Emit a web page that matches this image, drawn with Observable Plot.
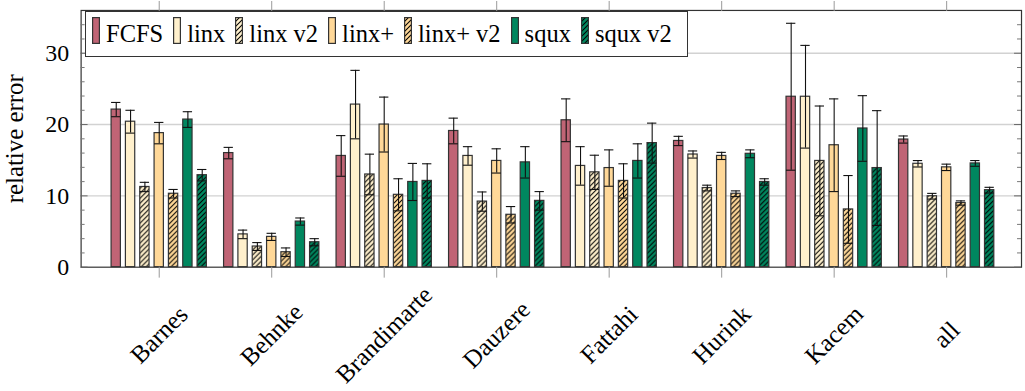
<!DOCTYPE html>
<html>
<head>
<meta charset="utf-8">
<script src="https://cdn.jsdelivr.net/npm/d3@7"></script>
<script src="https://cdn.jsdelivr.net/npm/@observablehq/plot@0.6"></script>
<style>
  html, body { margin: 0; padding: 0; background: #fff; overflow: hidden; }
  #chart { position: relative; width: 1025px; height: 391px; overflow: hidden; font-family: "Liberation Serif", serif; }
  #chart > svg { display: block; }
  #chart svg text { font-family: "Liberation Serif", serif; }
  #legend {
    position: absolute; left: 85px; top: 11px; height: 46px; box-sizing: border-box;
    border: 1px solid #333; background: #fff; display: flex; align-items: center;
    padding: 0 15px 0 6px; font-size: 24.5px; color: #000; z-index: 2;
  }
  #legend .entry { display: flex; align-items: center; margin-right: 10px; }
  #legend .entry:last-child { margin-right: 0; }
  #legend svg { position: relative; top: -3.5px; display: block; }
  #legend span { margin-left: 6px; white-space: pre; }
</style>
</head>
<body>
<div id="chart"><div id="legend"></div></div>
<script>
// Benchmark families (x groups) and scheduling methods (bars within a group)
const datasets = ["Barnes", "Behnke", "Brandimarte", "Dauzere", "Fattahi", "Hurink", "Kacem", "all"];
const methods = ["FCFS", "linx", "linx v2", "linx+", "linx+ v2", "squx", "squx v2"];

// Mean relative error per dataset, and the half-width of its error bar
const fcfsMean    = [22.1, 16.0, 15.6, 19.1, 20.6, 17.7, 23.9, 17.9];
const fcfsErr     = [1.0, 0.8, 2.85, 1.8, 3.0, 0.65, 10.3, 0.5];
const linxMean    = [20.4, 4.6, 22.8, 15.6, 14.2, 15.8, 23.9, 14.5];
const linxErr     = [1.6, 0.6, 4.8, 1.3, 2.7, 0.5, 7.2, 0.45];
const linxV2Mean  = [11.25, 2.9, 13.0, 9.2, 13.3, 11.1, 14.9, 9.95];
const linxV2Err   = [0.65, 0.55, 2.85, 1.35, 2.4, 0.4, 7.7, 0.4];
const linxPMean   = [18.8, 4.25, 20.0, 14.9, 13.9, 15.6, 17.1, 14.0];
const linxPErr    = [1.5, 0.5, 3.85, 1.7, 2.55, 0.5, 6.5, 0.45];
const linxPV2Mean = [10.3, 2.1, 10.15, 7.35, 12.1, 10.3, 8.1, 9.0];
const linxPV2Err  = [0.6, 0.6, 2.25, 1.15, 2.4, 0.4, 4.75, 0.3];
const squxMean    = [20.7, 6.4, 11.95, 14.7, 14.9, 15.9, 19.45, 14.55];
const squxErr     = [1.1, 0.5, 2.6, 2.2, 2.4, 0.55, 4.6, 0.4];
const squxV2Mean  = [12.9, 3.5, 12.1, 9.3, 17.4, 11.95, 13.9, 10.8];
const squxV2Err   = [0.8, 0.5, 2.4, 1.3, 2.8, 0.45, 8.05, 0.4];

// Axis ticks
const yMajorTicks = [0, 10, 20, 30];
const yGridTicks = [10, 20, 30];
const yMinorTicks = [2, 4, 6, 8, 12, 14, 16, 18, 22, 24, 26, 28, 32, 34];

const meanBy = {
  "FCFS": fcfsMean, "linx": linxMean, "linx v2": linxV2Mean, "linx+": linxPMean,
  "linx+ v2": linxPV2Mean, "squx": squxMean, "squx v2": squxV2Mean
};
const errBy = {
  "FCFS": fcfsErr, "linx": linxErr, "linx v2": linxV2Err, "linx+": linxPErr,
  "linx+ v2": linxPV2Err, "squx": squxErr, "squx v2": squxV2Err
};

// Colours: the "v2" variants reuse their base colour with a diagonal hatch
const baseColor = { "FCFS": "#c06475", "linx": "#fff0cc", "linx+": "#ffd898", "squx": "#00875f" };
const hatchOf = { "linx v2": "linx", "linx+ v2": "linx+", "squx v2": "squx" };
const slug = s => s.replace(/\+/g, "p").replace(/\s+/g, "-");
const fillOf = m => hatchOf[m] ? `url(#hatch-${slug(hatchOf[m])})` : baseColor[m];

// Group layout in x units (one unit per dataset group)
const barStep = 0.1274;   // distance between neighbouring bars of a group
const barHalf = 0.0414;   // half the bar width
const groupIndex = new Map(datasets.map((d, i) => [d, i]));
const methodIndex = new Map(methods.map((m, j) => [m, j]));

const table = methods.flatMap(m => datasets.map((ds, i) => ({
  dataset: ds, method: m, value: meanBy[m][i], err: errBy[m][i]
})));
const center = d => groupIndex.get(d.dataset) + (methodIndex.get(d.method) - (methods.length - 1) / 2) * barStep;

const W = 1030, H = 391, ML = 81, MR = 4, MT = 10, MB = 123;
const frameW = W - ML - MR;
const serif = "Liberation Serif";

const plot = Plot.plot({
  width: W, height: H,
  marginLeft: ML, marginRight: MR, marginTop: MT, marginBottom: MB,
  style: { fontFamily: serif, fontSize: "24px", background: "#fff", color: "#000", overflow: "visible" },
  x: { type: "linear", domain: [-0.6944, 7.6654], axis: null },
  y: { domain: [0, 36], axis: null },
  color: { type: "identity" },
  marks: [
    // horizontal grid
    Plot.ruleY(yGridTicks, { stroke: "#d2d2d2", strokeWidth: 1.5 }),
    // bars
    Plot.rect(table, {
      x1: d => center(d) - barHalf, x2: d => center(d) + barHalf,
      y1: 0, y2: "value",
      fill: d => fillOf(d.method), stroke: "#333", strokeWidth: 1.2
    }),
    // error bars with caps
    Plot.ruleX(table, {
      x: center, y1: d => d.value - d.err, y2: d => d.value + d.err,
      stroke: "#111", strokeWidth: 1.1
    }),
    Plot.ruleY(table, {
      y: d => d.value + d.err, x1: d => center(d) - barHalf, x2: d => center(d) + barHalf,
      stroke: "#111", strokeWidth: 1.1
    }),
    Plot.ruleY(table, {
      y: d => d.value - d.err, x1: d => center(d) - barHalf, x2: d => center(d) + barHalf,
      stroke: "#111", strokeWidth: 1.1
    }),
    // plot frame
    Plot.frame({ stroke: "#333", strokeWidth: 1.2 }),
    // y ticks pointing inward on both sides
    Plot.tickY(yMinorTicks, { y: d => d, insetRight: frameW - 4, stroke: "#777" }),
    Plot.tickY(yMinorTicks, { y: d => d, insetLeft: frameW - 4, stroke: "#777" }),
    Plot.tickY(yMajorTicks, { y: d => d, insetRight: frameW - 7, stroke: "#666" }),
    Plot.tickY(yMajorTicks, { y: d => d, insetLeft: frameW - 7, stroke: "#666" }),
    // group ticks pointing outward, top and bottom
    Plot.axisX({ anchor: "bottom", ticks: datasets.map((d, i) => i), tickSize: 11, tickFormat: () => "", label: null, stroke: "#999" }),
    Plot.axisX({ anchor: "top", ticks: datasets.map((d, i) => i), tickSize: 10, tickFormat: () => "", label: null, stroke: "#999" }),
    // rotated group labels
    Plot.text(datasets, {
      x: d => groupIndex.get(d), text: d => d, frameAnchor: "bottom", dy: 68, rotate: -45,
      textAnchor: "middle", lineAnchor: "middle", fontFamily: serif, fontSize: 25, fill: "#000"
    }),
    // y tick labels and title
    Plot.text(yMajorTicks, {
      y: d => d, text: d => String(d), frameAnchor: "left", dx: -12,
      textAnchor: "end", lineAnchor: "middle", fontFamily: serif, fontSize: 24, fill: "#000"
    }),
    Plot.text(["relative error"], {
      frameAnchor: "left", dx: -58, rotate: -90,
      textAnchor: "middle", lineAnchor: "bottom", fontFamily: serif, fontSize: 25, fill: "#000"
    })
  ]
});

// hatch patterns for the v2 variants
const defs = d3.select(plot).insert("defs", ":first-child");
for (const base of ["linx", "linx+", "squx"]) {
  const p = defs.append("pattern")
    .attr("id", `hatch-${slug(base)}`)
    .attr("patternUnits", "userSpaceOnUse")
    .attr("width", 5).attr("height", 5);
  p.append("rect").attr("width", 5).attr("height", 5).attr("fill", baseColor[base]);
  p.append("path")
    .attr("d", "M-1,1 L1,-1 M0,5 L5,0 M4,6 L6,4")
    .attr("stroke", "#000").attr("stroke-width", 1.05);
}

const chart = document.getElementById("chart");
chart.appendChild(plot);

// legend inside the top-left corner of the plot
const legend = d3.select("#legend");
for (const m of methods) {
  const e = legend.append("div").attr("class", "entry");
  const s = e.append("svg").attr("width", 8).attr("height", 27);
  s.append("rect")
    .attr("x", 0.6).attr("y", 0.6).attr("width", 6.8).attr("height", 25.8)
    .attr("fill", fillOf(m)).attr("stroke", "#333").attr("stroke-width", 1.2);
  e.append("span").text(m);
}
</script>
</body>
</html>
